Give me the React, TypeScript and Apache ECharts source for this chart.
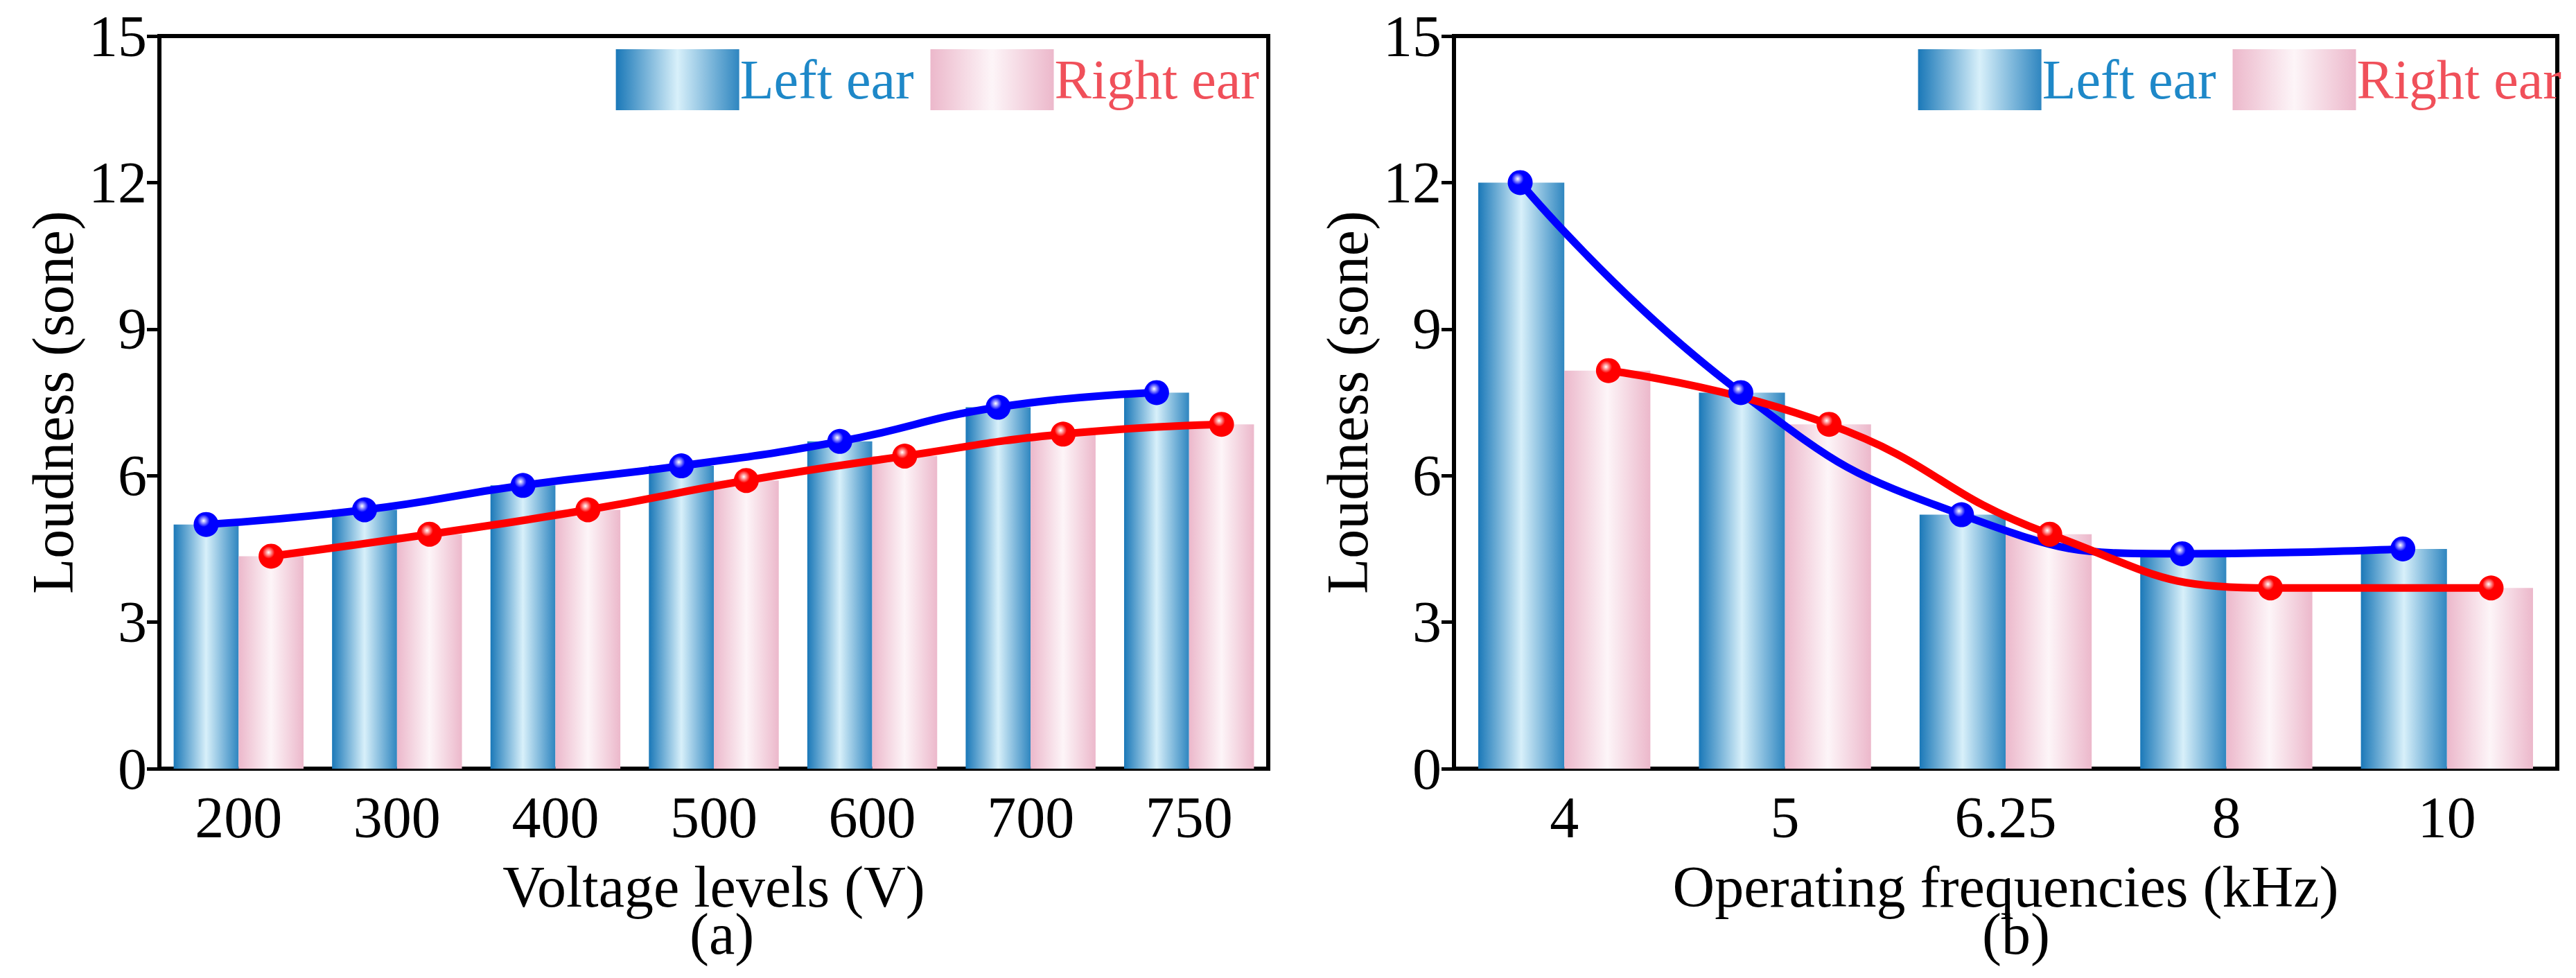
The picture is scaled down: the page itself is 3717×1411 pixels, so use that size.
import React, { useRef, useEffect } from 'react'
import * as echarts from 'echarts'

const voltages = ['200', '300', '400', '500', '600', '700', '750']
const voltLeft = [5.0, 5.3, 5.8, 6.2, 6.7, 7.4, 7.7]
const voltRight = [4.35, 4.8, 5.3, 5.9, 6.4, 6.85, 7.05]
const freqs = ['4', '5', '6.25', '8', '10']
const freqLeft = [12.0, 7.7, 5.2, 4.4, 4.5]
const freqRight = [8.15, 7.05, 4.8, 3.7, 3.7]

const FONT = 'Liberation Serif'
const FS = 84

const blueBar = new echarts.graphic.LinearGradient(0, 0, 1, 0, [
  { offset: 0, color: '#1a78b8' },
  { offset: 0.5, color: '#d8f0fa' },
  { offset: 1, color: '#2f86c0' }
])
const pinkBar = new echarts.graphic.LinearGradient(0, 0, 1, 0, [
  { offset: 0, color: '#ecb8cb' },
  { offset: 0.5, color: '#fdf5f8' },
  { offset: 1, color: '#ecb8cb' }
])
const ball = (c: string) =>
  new echarts.graphic.RadialGradient(0.4, 0.35, 0.7, [
    { offset: 0, color: '#ffffff' },
    { offset: 0.35, color: c },
    { offset: 1, color: c }
  ])

const App: React.FC = () => {
  const ref = useRef<HTMLDivElement>(null)

  useEffect(() => {
    document.body.style.margin = '0'
    if (!ref.current) return
    const chart = echarts.init(ref.current, undefined, { renderer: 'svg' })

    const axisLine = { lineStyle: { color: '#000', width: 6 } }
    const grids = [
      { left: 230, top: 52, width: 1600, height: 1057 },
      { left: 2098, top: 52, width: 1592, height: 1057 }
    ]
    const cats = [voltages, freqs]
    const names = ['Voltage levels (V)', 'Operating frequencies (kHz)']
    const lefts = [voltLeft, freqLeft]
    const rights = [voltRight, freqRight]
    const off = [0.205, 0.2]
    const bw = ['41%', '39%']

    const xAxis: any[] = []
    const yAxis: any[] = []
    const series: any[] = []
    for (let g = 0; g < 2; g++) {
      xAxis.push({
        type: 'category', gridIndex: g, data: cats[g],
        name: names[g], nameLocation: 'middle', nameGap: 128,
        nameTextStyle: { fontFamily: FONT, fontSize: FS, color: '#000' },
        axisLine, axisTick: { alignWithLabel: true, length: 18, lineStyle: { width: 5, color: '#000' } },
        axisLabel: { fontFamily: FONT, fontSize: FS, color: '#000', margin: 28 }
      })
      xAxis.push({
        type: 'value', gridIndex: g, min: -0.5, max: cats[g].length - 0.5, show: false
      })
      yAxis.push({
        type: 'value', gridIndex: g, min: 0, max: 15, interval: 3,
        name: 'Loudness (sone)', nameLocation: 'middle', nameGap: 112,
        nameTextStyle: { fontFamily: FONT, fontSize: FS, color: '#000' },
        axisLine: { show: true, onZero: false, ...axisLine },
        axisTick: { show: true, length: 18, lineStyle: { width: 5, color: '#000' } },
        axisLabel: { fontFamily: FONT, fontSize: FS, color: '#000', margin: 18 },
        splitLine: { show: false }
      })
      series.push({
        name: 'Left ear', type: 'bar', xAxisIndex: g * 2, yAxisIndex: g,
        data: lefts[g], barWidth: bw[g], barGap: '0%', itemStyle: { color: blueBar }
      })
      series.push({
        name: 'Right ear', type: 'bar', xAxisIndex: g * 2, yAxisIndex: g,
        data: rights[g], barWidth: bw[g], barGap: '0%', itemStyle: { color: pinkBar }
      })
      series.push({
        name: 'leftLine' + g, type: 'line', xAxisIndex: g * 2 + 1, yAxisIndex: g, smooth: 0.5,
        data: lefts[g].map((v, i) => [i - off[g], v]),
        lineStyle: { color: '#0000ff', width: 11 }, symbol: 'circle', symbolSize: 36,
        itemStyle: { color: ball('#0000ff') }, z: 5
      })
      series.push({
        name: 'rightLine' + g, type: 'line', xAxisIndex: g * 2 + 1, yAxisIndex: g, smooth: 0.5,
        data: rights[g].map((v, i) => [i + off[g], v]),
        lineStyle: { color: '#ff0000', width: 11 }, symbol: 'circle', symbolSize: 36,
        itemStyle: { color: ball('#ff0000') }, z: 5
      })
    }

    const legend = (g: number) => ({
      right: g === 0 ? 3717 - 1830 + 8 : 16,
      top: 66,
      itemWidth: 178, itemHeight: 88, itemGap: 24,
      icon: 'rect',
      data: [
        { name: 'Left ear', textStyle: { color: '#1e88c8' } },
        { name: 'Right ear', textStyle: { color: '#f0505a' } }
      ],
      textStyle: { fontFamily: FONT, fontSize: 80, padding: [0, 0, 0, -4] }
    })

    chart.setOption({
      animation: false,
      grid: grids.map(gr => ({ ...gr, show: true, borderColor: '#000', borderWidth: 6 })),
      legend: [legend(0), legend(1)],
      xAxis, yAxis, series,
      graphic: [
        { type: 'text', left: 995, top: 1305, style: { text: '(a)', font: `${FS}px "${FONT}"`, fill: '#000' } },
        { type: 'text', left: 2860, top: 1305, style: { text: '(b)', font: `${FS}px "${FONT}"`, fill: '#000' } }
      ]
    })
    return () => chart.dispose()
  }, [])

  return <div ref={ref} style={{ width: 3717, height: 1411 }} />
}

export default App
